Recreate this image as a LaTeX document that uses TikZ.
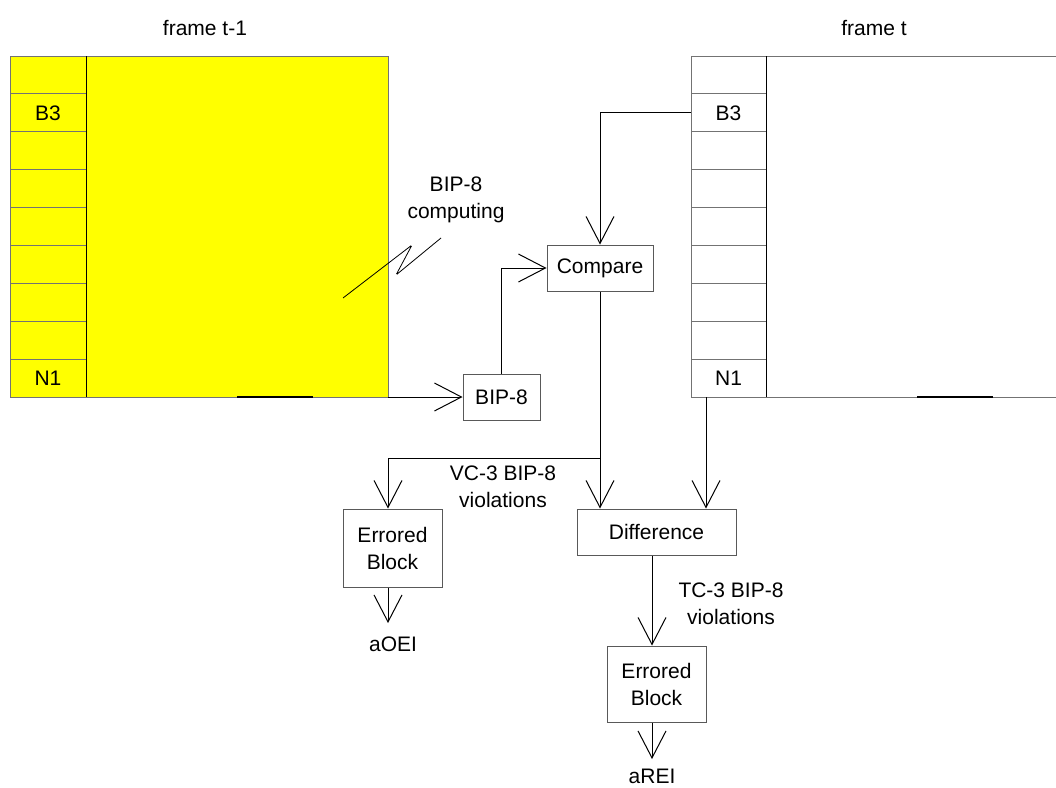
\documentclass[tikz,border=0pt]{standalone}
\usepackage{fontspec}
\setmainfont{Liberation Sans}
\usetikzlibrary{arrows.meta}
\definecolor{fy}{RGB}{255,255,0}
\begin{document}
\begin{tikzpicture}[x=1pt,y=-1pt,
  every node/.style={font=\fontsize{21}{27}\selectfont, text=black},
  box/.style={draw=black!65, line width=1pt, fill=white, inner sep=0pt, align=center},
  cell/.style={minimum width=76pt, minimum height=37.9pt, inner sep=0pt},
  lbl/.style={align=center, inner sep=0pt},
  arr/.style={line width=1pt, -{Straight Barb[length=27pt,width=28pt,line width=1pt]}},
  conn/.style={line width=1pt},
  frameline/.style={draw=black!55, line width=1pt},
  divline/.style={draw=black, line width=1pt}]
\useasboundingbox (0,0) rectangle (1056,787);

% titles
\node (t1) at (205,28) {frame t-1};
\node (t2) at (874,28) {frame t};

% left frame (t-1)
\fill[fy] (10,56) rectangle (388,397);
\draw[frameline] (10,56) rectangle (388,397);
\foreach \k in {1,...,8} { \draw[frameline] (10,{56+\k*37.9}) -- (86,{56+\k*37.9}); }
\draw[divline] (86,56) -- (86,397);
\draw[line width=1.6pt, black] (237,397) -- (313,397);
\node[cell] (lb3) at (48,{56+1.5*37.9}) {B3};
\node[cell] (ln1) at (48,{56+8.5*37.9}) {N1};
\coordinate (lbr) at (388,397);

% right frame (t)
\draw[frameline] (1056,56) -- (691,56) -- (691,397) -- (1056,397);
\foreach \k in {1,...,8} { \draw[frameline] (691,{56+\k*37.9}) -- (766,{56+\k*37.9}); }
\draw[divline] (766,56) -- (766,397);
\draw[line width=1.6pt, black] (917,397) -- (993,397);
\node[cell, minimum width=75pt] (rb3) at (728.5,{56+1.5*37.9}) {B3};
\node[cell, minimum width=75pt] (rn1) at (728.5,{56+8.5*37.9}) {N1};

% BIP-8 computing
\node[lbl] (comp) at (456,200) {BIP-8\\computing};
\draw[line width=0.8pt, rounded corners=1.5pt] (343,298) -- (412,245) -- (396,275) -- (441,238);

% boxes
\node[box, minimum width=106pt, minimum height=46pt] (cmp) at (600,268) {Compare};
\node[box, minimum width=77pt, minimum height=46pt] (bip) at (501.5,397) {BIP-8};
\node[box, minimum width=99pt, minimum height=78pt] (eb1) at (392.5,548) {Errored\\Block};
\node[box, minimum width=159pt, minimum height=46pt] (diff) at (656.5,532) {Difference};
\node[box, minimum width=99pt, minimum height=76pt] (eb2) at (656.5,684) {Errored\\Block};

% connectors
\draw[arr] (rb3.west) -| (cmp.north);
\draw[arr] (lbr) -- (bip.west);
\draw[arr] (bip.north) |- (cmp.west);
\coordinate (j) at (600,458);
\draw[conn] (cmp.south) -- (j);
\draw[arr] (j) -- (j |- diff.north);
\draw[arr] (j) -| ([xshift=-4.5pt]eb1.north);
\draw[arr] ([xshift=-22.5pt]rn1.south) -- ([xshift=-22.5pt]rn1.south |- diff.north);
\draw[arr] ([xshift=-4.5pt]diff.south) -- ([xshift=-4.5pt]eb2.north);

% labels
\node[lbl] (vc3) at (503,487) {VC-3 BIP-8\\violations};
\node[lbl] (tc3) at (731,604) {TC-3 BIP-8\\violations};

% outputs
\node[lbl] (aoei) at (393,644) {aOEI};
\coordinate (ao) at (388,623);
\draw[arr] ([xshift=-4.5pt]eb1.south) -- (ao);
\node[lbl] (arei) at (652,776) {aREI};
\coordinate (ar) at (652,759);
\draw[arr] ([xshift=-4.5pt]eb2.south) -- (ar);
\end{tikzpicture}
\end{document}
